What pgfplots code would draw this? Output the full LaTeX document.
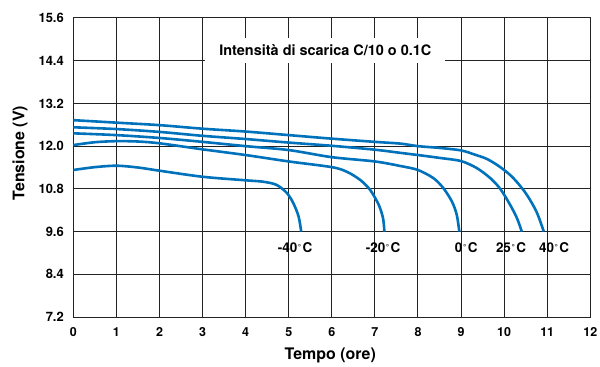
\documentclass[border=0pt]{standalone}
\usepackage{fontspec}
\setmainfont{TeX Gyre Heros}
\usepackage{pgfplots}
\pgfplotsset{compat=1.18}
\definecolor{curve}{RGB}{0,114,188}
\definecolor{gridc}{RGB}{35,35,35}
\newcommand\dg{\hspace{0.6bp}\raisebox{2.2bp}{\fontsize{8.5}{8.5}\selectfont °}\hspace{1.4bp}}
\tikzset{bat/.style={draw=curve, line width=2.6bp, smooth, mark=none}}
\begin{document}
\begin{tikzpicture}
\begin{axis}[
  scale only axis, width=517bp, height=299bp,
  xmin=0, xmax=12, ymin=7.2, ymax=15.6,
  xtick={0,1,...,12},
  ytick={7.2,8.4,9.6,10.8,12.0,13.2,14.4,15.6},
  yticklabels={7.2,8.4,9.6,10.8,12.0,13.2,14.4,15.6},
  /pgf/number format/assume math mode=true,
  major tick length=0pt,
  grid=major,
  grid style={gridc, line width=1bp},
  axis line style={gridc, line width=1bp},
  xticklabel style={font=\bfseries\fontsize{12.5}{12.5}\selectfont, yshift=-7bp},
  yticklabel style={font=\bfseries\fontsize{13}{13}\selectfont, xshift=-6bp},
  xlabel={Tempo (ore)}, ylabel={Tensione (V)},
  every axis x label/.style={at={(axis description cs:0.497,-0.127)}, anchor=center, font=\bfseries\fontsize{16}{16}\selectfont},
  every axis y label/.style={at={(axis description cs:-0.103,0.548)}, anchor=center, rotate=90, font=\bfseries\fontsize{16}{16}\selectfont},
]
% 40 C
\addplot[bat] coordinates {(0,12.73)(1,12.66)(2,12.59)(3,12.49)(4,12.41)(5,12.31)(6,12.21)(7,12.12)(7.6,12.07)(8,12.0)(8.5,11.95)(9,11.88)(9.3,11.77)(9.6,11.64)(9.9,11.42)(10.2,11.12)(10.5,10.68)(10.75,10.16)(10.92,9.6)};
% 25 C
\addplot[bat] coordinates {(0,12.53)(1,12.48)(2,12.40)(3,12.29)(4,12.20)(5,12.10)(6,12.01)(7,11.90)(7.6,11.81)(8,11.75)(8.5,11.67)(9,11.58)(9.37,11.38)(9.68,11.10)(9.91,10.80)(10.14,10.35)(10.30,9.97)(10.41,9.6)};
% 0 C
\addplot[bat] coordinates {(0,12.36)(1,12.31)(2,12.23)(3,12.12)(4,12.00)(5,11.89)(6,11.69)(7,11.57)(7.6,11.44)(8,11.33)(8.36,11.10)(8.59,10.82)(8.79,10.44)(8.90,10.07)(8.96,9.6)};
% -20 C
\addplot[bat] coordinates {(0,12.03)(0.5,12.11)(1,12.14)(1.5,12.13)(2,12.08)(3,11.91)(4,11.75)(5,11.57)(6,11.41)(6.35,11.28)(6.66,11.05)(6.89,10.77)(7.09,10.35)(7.19,9.97)(7.22,9.6)};
% -40 C
\addplot[bat] coordinates {(0,11.33)(0.5,11.41)(1,11.45)(1.5,11.40)(2,11.31)(3,11.14)(4,11.04)(4.41,11.00)(4.72,10.91)(4.96,10.68)(5.11,10.39)(5.23,10.02)(5.29,9.6)};

\node[fill=white, inner sep=0pt, minimum width=240bp, minimum height=25bp, font=\bfseries\fontsize{14.5}{14.5}\selectfont] at (axis cs:5.85,14.69) {Intensità di scarica C/10 o 0.1C};
\begin{scope}[every node/.style={font=\bfseries\fontsize{13.5}{13.5}\selectfont, inner sep=0pt}]
\node at (axis cs:5.15,9.14) {-40\dg C};
\node at (axis cs:7.19,9.14) {-20\dg C};
\node at (axis cs:9.12,9.14) {0\dg C};
\node at (axis cs:10.16,9.14) {25\dg C};
\node at (axis cs:11.16,9.14) {40\dg C};
\end{scope}
\end{axis}
\pgfresetboundingbox
\path (-73.3bp,-50bp) rectangle (526.7bp,317bp);
\end{tikzpicture}
\end{document}
